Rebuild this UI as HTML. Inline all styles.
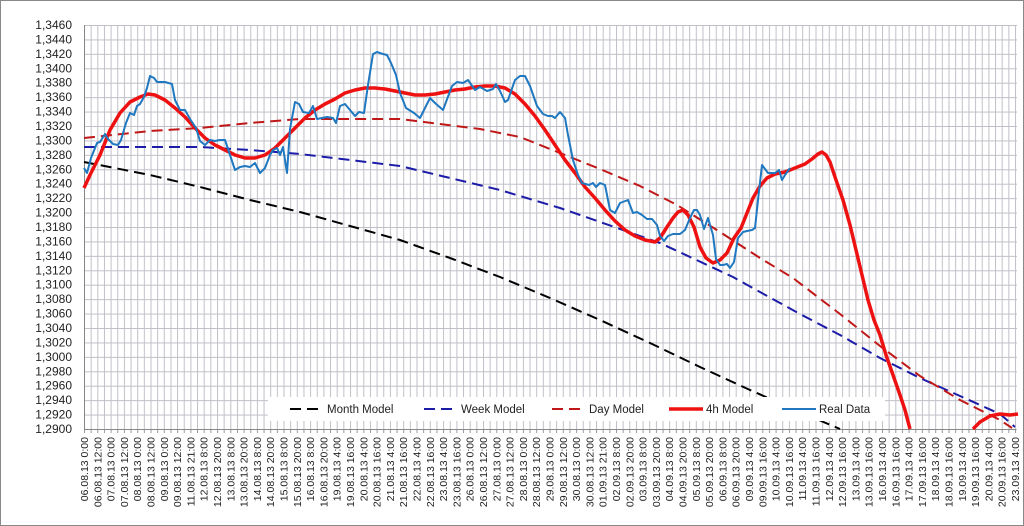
<!DOCTYPE html>
<html><head><meta charset="utf-8"><style>
body{margin:0;background:#fff}
svg{display:block;font-family:"Liberation Sans",sans-serif}
</style></head><body>
<svg width="1024" height="526" viewBox="0 0 1024 526" xmlns="http://www.w3.org/2000/svg">
<defs>
<pattern id="vg" x="84" y="25" width="6.65" height="14.4286" patternUnits="userSpaceOnUse">
<path d="M0.5 0V14.43M0 0.5H6.65" stroke="#c0c0c8" stroke-width="1" fill="none"/>
</pattern>
<pattern id="tk" x="84" y="0" width="6.65" height="10" patternUnits="userSpaceOnUse">
<path d="M0.5 0V10" stroke="#999" stroke-width="1"/>
</pattern>
</defs>
<rect x="0.5" y="0.5" width="1023" height="525" fill="#fff" stroke="#888"/>
<rect x="84" y="25" width="933" height="405" fill="url(#vg)"/>
<rect x="84" y="429" width="933" height="4" fill="url(#tk)"/>
<line x1="84" y1="429.5" x2="1016" y2="429.5" stroke="#888"/>
<line x1="84.5" y1="25" x2="84.5" y2="429" stroke="#888"/>
<g font-size="12" fill="#222" text-anchor="end">
<text x="72" y="29">1,3460</text><text x="72" y="43.4">1,3440</text><text x="72" y="57.9">1,3420</text><text x="72" y="72.3">1,3400</text><text x="72" y="86.7">1,3380</text><text x="72" y="101.1">1,3360</text><text x="72" y="115.6">1,3340</text><text x="72" y="130">1,3320</text><text x="72" y="144.4">1,3300</text><text x="72" y="158.9">1,3280</text><text x="72" y="173.3">1,3260</text><text x="72" y="187.7">1,3240</text><text x="72" y="202.1">1,3220</text><text x="72" y="216.6">1,3200</text><text x="72" y="231">1,3180</text><text x="72" y="245.4">1,3160</text><text x="72" y="259.9">1,3140</text><text x="72" y="274.3">1,3120</text><text x="72" y="288.7">1,3100</text><text x="72" y="303.1">1,3080</text><text x="72" y="317.6">1,3060</text><text x="72" y="332">1,3040</text><text x="72" y="346.4">1,3020</text><text x="72" y="360.9">1,3000</text><text x="72" y="375.3">1,2980</text><text x="72" y="389.7">1,2960</text><text x="72" y="404.1">1,2940</text><text x="72" y="418.6">1,2920</text><text x="72" y="433">1,2900</text>
</g>
<g font-size="10.5" fill="#222" text-anchor="end">
<text transform="translate(88,437) rotate(-90)">06.08.13 0:00</text>
<text transform="translate(101.3,437) rotate(-90)">06.08.13 12:00</text>
<text transform="translate(114.6,437) rotate(-90)">07.08.13 0:00</text>
<text transform="translate(127.9,437) rotate(-90)">07.08.13 12:00</text>
<text transform="translate(141.2,437) rotate(-90)">08.08.13 0:00</text>
<text transform="translate(154.5,437) rotate(-90)">08.08.13 12:00</text>
<text transform="translate(167.8,437) rotate(-90)">09.08.13 0:00</text>
<text transform="translate(181.1,437) rotate(-90)">09.08.13 12:00</text>
<text transform="translate(194.4,437) rotate(-90)">11.08.13 21:00</text>
<text transform="translate(207.7,437) rotate(-90)">12.08.13 8:00</text>
<text transform="translate(221,437) rotate(-90)">12.08.13 20:00</text>
<text transform="translate(234.3,437) rotate(-90)">13.08.13 8:00</text>
<text transform="translate(247.6,437) rotate(-90)">13.08.13 20:00</text>
<text transform="translate(260.9,437) rotate(-90)">14.08.13 8:00</text>
<text transform="translate(274.2,437) rotate(-90)">14.08.13 20:00</text>
<text transform="translate(287.5,437) rotate(-90)">15.08.13 8:00</text>
<text transform="translate(300.8,437) rotate(-90)">15.08.13 20:00</text>
<text transform="translate(314.1,437) rotate(-90)">16.08.13 8:00</text>
<text transform="translate(327.4,437) rotate(-90)">16.08.13 20:00</text>
<text transform="translate(340.7,437) rotate(-90)">19.08.13 4:00</text>
<text transform="translate(354,437) rotate(-90)">19.08.13 16:00</text>
<text transform="translate(367.3,437) rotate(-90)">20.08.13 4:00</text>
<text transform="translate(380.6,437) rotate(-90)">20.08.13 16:00</text>
<text transform="translate(393.9,437) rotate(-90)">21.08.13 4:00</text>
<text transform="translate(407.2,437) rotate(-90)">21.08.13 16:00</text>
<text transform="translate(420.5,437) rotate(-90)">22.08.13 4:00</text>
<text transform="translate(433.8,437) rotate(-90)">22.08.13 16:00</text>
<text transform="translate(447.1,437) rotate(-90)">23.08.13 4:00</text>
<text transform="translate(460.4,437) rotate(-90)">23.08.13 16:00</text>
<text transform="translate(473.7,437) rotate(-90)">26.08.13 0:00</text>
<text transform="translate(487,437) rotate(-90)">26.08.13 12:00</text>
<text transform="translate(500.3,437) rotate(-90)">27.08.13 0:00</text>
<text transform="translate(513.6,437) rotate(-90)">27.08.13 12:00</text>
<text transform="translate(526.9,437) rotate(-90)">28.08.13 0:00</text>
<text transform="translate(540.2,437) rotate(-90)">28.08.13 12:00</text>
<text transform="translate(553.5,437) rotate(-90)">29.08.13 0:00</text>
<text transform="translate(566.8,437) rotate(-90)">29.08.13 12:00</text>
<text transform="translate(580.1,437) rotate(-90)">30.08.13 0:00</text>
<text transform="translate(593.4,437) rotate(-90)">30.08.13 12:00</text>
<text transform="translate(606.7,437) rotate(-90)">01.09.13 21:00</text>
<text transform="translate(620,437) rotate(-90)">02.09.13 8:00</text>
<text transform="translate(633.3,437) rotate(-90)">02.09.13 20:00</text>
<text transform="translate(646.6,437) rotate(-90)">03.09.13 8:00</text>
<text transform="translate(659.9,437) rotate(-90)">03.09.13 20:00</text>
<text transform="translate(673.2,437) rotate(-90)">04.09.13 8:00</text>
<text transform="translate(686.5,437) rotate(-90)">04.09.13 20:00</text>
<text transform="translate(699.8,437) rotate(-90)">05.09.13 8:00</text>
<text transform="translate(713.1,437) rotate(-90)">05.09.13 20:00</text>
<text transform="translate(726.4,437) rotate(-90)">06.09.13 8:00</text>
<text transform="translate(739.7,437) rotate(-90)">06.09.13 20:00</text>
<text transform="translate(753,437) rotate(-90)">09.09.13 4:00</text>
<text transform="translate(766.3,437) rotate(-90)">09.09.13 16:00</text>
<text transform="translate(779.6,437) rotate(-90)">10.09.13 4:00</text>
<text transform="translate(792.9,437) rotate(-90)">10.09.13 16:00</text>
<text transform="translate(806.2,437) rotate(-90)">11.09.13 4:00</text>
<text transform="translate(819.5,437) rotate(-90)">11.09.13 16:00</text>
<text transform="translate(832.8,437) rotate(-90)">12.09.13 4:00</text>
<text transform="translate(846.1,437) rotate(-90)">12.09.13 16:00</text>
<text transform="translate(859.4,437) rotate(-90)">13.09.13 4:00</text>
<text transform="translate(872.7,437) rotate(-90)">13.09.13 16:00</text>
<text transform="translate(886,437) rotate(-90)">16.09.13 4:00</text>
<text transform="translate(899.3,437) rotate(-90)">16.09.13 16:00</text>
<text transform="translate(912.6,437) rotate(-90)">17.09.13 4:00</text>
<text transform="translate(925.9,437) rotate(-90)">17.09.13 16:00</text>
<text transform="translate(939.2,437) rotate(-90)">18.09.13 4:00</text>
<text transform="translate(952.5,437) rotate(-90)">18.09.13 16:00</text>
<text transform="translate(965.8,437) rotate(-90)">19.09.13 4:00</text>
<text transform="translate(979.1,437) rotate(-90)">19.09.13 16:00</text>
<text transform="translate(992.4,437) rotate(-90)">20.09.13 4:00</text>
<text transform="translate(1005.7,437) rotate(-90)">20.09.13 16:00</text>
<text transform="translate(1019,437) rotate(-90)">23.09.13 4:00</text>
</g>
<g fill="none" stroke-linejoin="round" stroke-linecap="butt">
<polyline stroke="#000" stroke-width="2" stroke-dasharray="11,6" points="84,162 150,175 200,187 250,200 300,212 350,226 400,240 450,258 500,277 550,298 600,320 650,343 700,367 750,390 800,412 840,429"/>
<polyline stroke="#1c1ca8" stroke-width="2" stroke-dasharray="11,6" points="84,147 200,147 250,150 300,154 350,160 400,166 450,178 500,190 560,208 600,222 660,243 733,277 760,292 800,314 840,335 880,358 920,378 960,396 1000,414 1015,427"/>
<polyline stroke="#c01818" stroke-width="2" stroke-dasharray="11,6" points="84,138 150,131 200,128 250,123 300,119 350,119 400,119 440,124 480,129 520,137 560,153 600,169 640,186 677,205 720,232 760,258 793,278 840,314 880,346 920,376 960,400 1000,420 1012,428"/>
<polyline stroke="#ee1111" stroke-width="3.5" points="84,188 90,175 100,155 110,130 120,113 130,102 140,97 148,94 155,95 165,100 175,108 185,117 195,128 205,138 215,145 225,150 235,155 245,158 255,158 265,155 275,148 285,138 295,128 305,118 315,110 325,104 335,99 345,93 355,90 365,88 375,88 385,89 395,91 405,93 415,95 425,95 435,94 445,92 455,90 465,89 475,87 485,86 495,86 505,88 515,94 525,104 535,116 545,130 555,145 565,160 575,173 585,187 595,198 605,210 615,221 625,230 635,236 645,240 655,242 660,238 667,227 673,218 678,212 683,210 688,215 694,227 700,247 706,258 713,263 720,260 727,253 734,238 741,228 747,213 753,198 760,186 767,178 775,174 785,172 795,168 805,164 812,159 818,154 822,152 826,155 830,162 836,180 843,200 850,225 856,250 862,275 868,300 874,320 880,335 886,355 893,375 900,395 905,410 910,429"/>
<polyline stroke="#ee1111" stroke-width="3.5" points="973,429 980,422 990,416 1000,414 1010,415 1018,414"/>
<polyline stroke="#1f78c0" stroke-width="2" points="84,168 87,173 91,158 97,143 100,142 105,134 108,139 113,144 118,145 121,140 126,123 130,113 134,115 137,106 140,104 144,97 147,88 150,76 154,78 157,82 165,82 172,84 175,100 180,110 185,110 190,119 196,128 200,141 205,145 210,140 215,141 220,140 225,140 230,155 235,170 240,167 245,166 250,167 255,163 260,173 265,168 270,155 273,150 277,148 280,155 283,147 287,173 290,129 295,102 299,104 303,112 309,113 313,106 317,119 322,118 327,117 333,118 336,123 340,106 345,104 350,110 355,116 359,112 364,113 368,85 373,54 377,52 383,54 387,55 391,63 396,75 400,93 406,108 414,113 420,118 430,98 435,103 443,110 452,86 457,82 463,83 468,80 475,90 480,87 487,91 493,89 496,84 500,91 505,102 508,100 515,80 520,76 525,76 530,86 537,106 543,114 548,116 552,116 555,118 560,112 565,118 568,135 573,160 578,175 582,183 589,185 593,183 596,187 600,183 605,185 610,210 615,213 620,203 628,200 633,213 637,212 642,215 647,219 652,219 657,225 660,236 664,241 668,236 673,234 680,234 685,230 690,218 694,210 697,210 700,215 704,229 708,218 713,235 716,259 720,265 723,265 727,264 730,268 734,262 738,238 743,232 747,231 752,230 755,228 758,200 762,165 768,173 775,173 779,170 782,180 785,175 790,168"/>
</g>
<rect x="268" y="397" width="617" height="24" fill="#fff"/>
<g font-size="11.5" fill="#222">
<line x1="290" y1="409" x2="324" y2="409" stroke="#000" stroke-width="2" stroke-dasharray="11,6"/><text x="327" y="413">Month Model</text>
<line x1="424" y1="409" x2="458" y2="409" stroke="#1c1ca8" stroke-width="2" stroke-dasharray="11,6"/><text x="461" y="413">Week Model</text>
<line x1="552" y1="409" x2="586" y2="409" stroke="#c01818" stroke-width="2" stroke-dasharray="11,6"/><text x="589" y="413">Day Model</text>
<line x1="669" y1="409" x2="703" y2="409" stroke="#ee1111" stroke-width="3.5"/><text x="706" y="413">4h Model</text>
<line x1="782" y1="409" x2="816" y2="409" stroke="#1f78c0" stroke-width="2"/><text x="819" y="413">Real Data</text>
</g>
</svg>
</body></html>
